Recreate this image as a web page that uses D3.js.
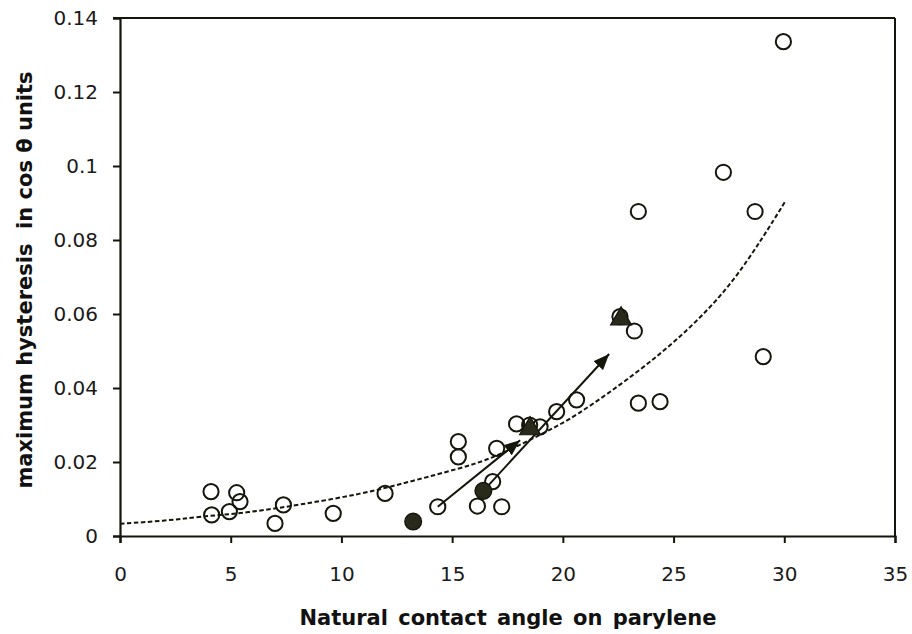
<!DOCTYPE html>
<html><head><meta charset="utf-8">
<script src="https://cdn.jsdelivr.net/npm/d3@7"></script>
<style>body{margin:0;background:#fff}</style>
</head><body><svg id="c" width="912" height="634"></svg>
<script>
// ---- data ----
const xTicks = [0, 5, 10, 15, 20, 25, 30, 35];
const xTickLabels = ["0", "5", "10", "15", "20", "25", "30", "35"];
const yTicks = [0, 0.02, 0.04, 0.06, 0.08, 0.1, 0.12, 0.14];
const yTickLabels = ["0", "0.02", "0.04", "0.06", "0.08", "0.1", "0.12", "0.14"];

const openX = [4.11, 4.14, 4.94, 5.27, 5.42, 7.0, 7.38, 9.63, 11.97, 14.35, 15.28, 15.28, 16.14, 16.83, 17.24, 17.01, 17.91, 18.5, 18.97, 19.72, 20.62, 22.58, 23.23, 23.41, 23.41, 24.39, 27.25, 28.68, 29.05, 29.96];
const openY = [0.0120, 0.0057, 0.0066, 0.0117, 0.0093, 0.0034, 0.0084, 0.0061, 0.0115, 0.0079, 0.0255, 0.0214, 0.0081, 0.0147, 0.0079, 0.0237, 0.0303, 0.0300, 0.0295, 0.0336, 0.0368, 0.0593, 0.0554, 0.0877, 0.0359, 0.0363, 0.0983, 0.0877, 0.0485, 0.1336];

const filledX = [13.24, 16.41];
const filledY = [0.0039, 0.0122];

const triX = [18.52, 22.63];
const triY = [0.0290, 0.0587];

const trendX = [0, 2.03, 3.54, 5.8, 8.05, 10.9, 13.1, 15.36, 16.86, 19.12, 20.5, 23.34, 25.6, 27.55, 29.06, 30.04];
const trendY = [0.0033, 0.0041, 0.0052, 0.0063, 0.0084, 0.0113, 0.0147, 0.0183, 0.0210, 0.0278, 0.0320, 0.0440, 0.0552, 0.0674, 0.0809, 0.0904];

const arrowFromX = [14.35, 16.41];
const arrowFromY = [0.0079, 0.0122];
const arrowToX = [18.07, 22.09];
const arrowToY = [0.0259, 0.0492];

const xTitle = "Natural contact angle on parylene";
const yTitle = "maximum hysteresis  in cos θ units";

// ---- drawing ----
const svg = d3.select("#c");
const ink = "#15150c";
const x = d3.scaleLinear().domain([0, 35]).range([120, 895]);
const y = d3.scaleLinear().domain([0, 0.14]).range([536, 18]);
const font = "'DejaVu Sans', sans-serif";

svg.append("defs").append("marker")
  .attr("id", "arr").attr("markerUnits", "userSpaceOnUse")
  .attr("markerWidth", 17).attr("markerHeight", 13)
  .attr("refX", 16).attr("refY", 6.5).attr("orient", "auto")
  .append("path").attr("d", "M0,0 L16,6.5 L0,13 Z").attr("fill", ink);

// frame (top + right)
svg.append("line").attr("x1", 113).attr("x2", x(35)).attr("y1", y(0.14)).attr("y2", y(0.14))
  .attr("stroke", ink).attr("stroke-width", 2);
svg.append("line").attr("x1", x(35)).attr("x2", x(35)).attr("y1", y(0.14)).attr("y2", y(0))
  .attr("stroke", ink).attr("stroke-width", 2);

// axes
const gx = svg.append("g").attr("transform", `translate(0,${y(0)})`)
  .call(d3.axisBottom(x).tickValues(xTicks).tickSize(7).tickPadding(24)
    .tickFormat((d, i) => xTickLabels[i]));
const gy = svg.append("g").attr("transform", `translate(${x(0)},0)`)
  .call(d3.axisLeft(y).tickValues(yTicks).tickSize(7).tickPadding(15)
    .tickFormat((d, i) => yTickLabels[i]));
[gx, gy].forEach(g => {
  g.select(".domain").attr("stroke", ink).attr("stroke-width", 2.2);
  g.selectAll(".tick line").attr("stroke", ink).attr("stroke-width", 2);
  g.selectAll(".tick text").attr("fill", "#1a1a1a").style("font-family", font).style("font-size", "20px");
});
gx.selectAll(".tick text").attr("dy", "0.71em");

// trend line
svg.append("path")
  .datum(trendX.map((v, i) => [v, trendY[i]]))
  .attr("d", d3.line().x(d => x(d[0])).y(d => y(d[1])).curve(d3.curveBasis))
  .attr("fill", "none").attr("stroke", ink).attr("stroke-width", 2)
  .attr("stroke-dasharray", "4.5,2.5");

// open circles
svg.append("g").selectAll("circle").data(openX.map((v, i) => [v, openY[i]])).join("circle")
  .attr("cx", d => x(d[0])).attr("cy", d => y(d[1])).attr("r", 7.6)
  .attr("fill", "none").attr("stroke", ink).attr("stroke-width", 2);

// arrows
svg.append("g").selectAll("line").data(arrowFromX.map((v, i) => i)).join("line")
  .attr("x1", i => x(arrowFromX[i])).attr("y1", i => y(arrowFromY[i]))
  .attr("x2", i => x(arrowToX[i])).attr("y2", i => y(arrowToY[i]))
  .attr("stroke", ink).attr("stroke-width", 2).attr("marker-end", "url(#arr)");

// filled circles
svg.append("g").selectAll("circle").data(filledX.map((v, i) => [v, filledY[i]])).join("circle")
  .attr("cx", d => x(d[0])).attr("cy", d => y(d[1])).attr("r", 8.3)
  .attr("fill", "#2a2a1c").attr("stroke", ink).attr("stroke-width", 1.5);

// filled triangles
svg.append("g").selectAll("path").data(triX.map((v, i) => [v, triY[i]])).join("path")
  .attr("transform", d => `translate(${x(d[0])},${y(d[1])})`)
  .attr("d", d3.symbol(d3.symbolTriangle, 190))
  .attr("fill", "#2a2a1c").attr("stroke", ink).attr("stroke-width", 1.2);

// titles
svg.append("text").attr("x", 508).attr("y", 625).attr("text-anchor", "middle")
  .style("font-family", font).style("font-size", "21px").style("font-weight", "bold")
  .style("word-spacing", "3px").attr("fill", "#111").text(xTitle);
svg.append("text").attr("transform", "translate(32,280) rotate(-90)").attr("text-anchor", "middle")
  .style("font-family", font).style("font-size", "21px").style("font-weight", "bold")
  .attr("fill", "#111").style("white-space", "pre").text(yTitle);
</script></body></html>
